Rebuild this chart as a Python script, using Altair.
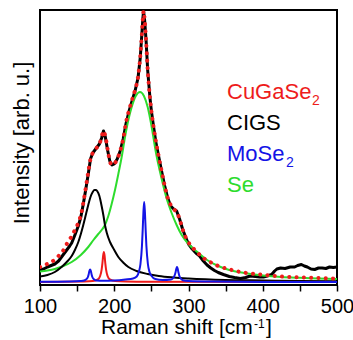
import altair as alt
import pandas as pd

# ---- measured spectrum (black, thick) ----
data_x = [100, 105, 110, 115, 120, 125, 129, 133, 136, 140, 142.7, 147, 151.6, 155, 158.3,
          161.5, 165, 168, 171, 175, 180, 183, 185.5, 188, 191, 194, 197, 200, 204, 208,
          212, 216, 220, 224, 228, 232, 235, 237, 238.5, 239.5, 241, 243, 245, 248, 250,
          253, 256, 260, 264, 268, 272, 276, 280, 284, 288, 292, 296, 300, 305, 310, 315,
          320, 325, 330, 335, 340, 347, 355, 362, 370, 377, 383, 390, 396, 401, 406, 412,
          416, 419, 424, 430, 437, 443, 447, 452, 456, 460, 465, 470, 475, 480, 485, 490,
          495, 500]
data_y = [12, 13, 15, 16.5, 18, 21, 25, 29, 32, 36, 39, 47, 56, 65, 78,
          92, 108, 123, 129, 133, 138, 144, 151, 145, 132, 121, 117, 118, 123, 131,
          143, 159, 171, 181, 191, 204, 224, 246, 263, 271, 261, 240, 212, 185, 171,
          155, 140, 125, 110, 96, 84, 76, 73, 71, 63, 53, 45, 38, 33, 29, 26,
          21, 17, 14, 11.5, 9.5, 7.5, 5.5, 4.5, 3.5, 4.5, 6, 5.5, 5, 5, 6, 7.5,
          11, 13, 14, 13.5, 15, 15, 16.5, 17.5, 16, 15, 13, 12.5, 14, 14, 13.5, 15,
          14.5, 15]

# ---- cumulative fit (red dots) ----
fit_x = [100, 106, 113, 120, 125, 130, 136, 142, 147, 152, 156, 159, 162, 165, 168, 171, 175,
         179, 182, 185.5, 188, 191, 194, 197, 200, 204, 208, 212, 216, 220, 224, 228, 232,
         235, 237, 238.5, 239.5, 241, 243, 245, 248, 250, 253, 256, 260, 264, 268, 272,
         276, 280, 284, 288, 292, 296, 302, 310, 320, 329, 340, 356, 370, 383, 397, 410,
         425, 437, 455, 475, 500]
fit_y = [15, 17, 19, 22.5, 26, 30, 38, 45, 52, 60, 70, 82, 96, 110, 123, 129, 133,
         137, 142, 151, 146, 133, 121, 117, 118, 123, 131, 143, 160, 172, 182, 192, 205,
         225, 246, 263, 271, 262, 240, 213, 185, 171, 155, 141, 125, 110, 96, 84,
         77, 73, 70, 63, 53, 45, 37.5, 31, 24, 20, 16, 12.5, 10, 8.5, 7.5, 6.5,
         5.5, 5, 4.5, 4, 3.5]

# ---- Se component (green) ----
se_x = [100, 110, 120, 130, 142.7, 155, 165, 172, 178.5, 183, 187.5, 192, 196.5, 201, 205.5,
        210, 214.5, 219, 223.5, 229, 234.7, 240, 245, 250.4, 256, 263.9, 270, 277.3, 284,
        290.8, 300, 312, 325, 340, 355, 375, 400, 425, 450, 475, 500]
se_y = [10.5, 11.5, 13, 15.5, 20, 27, 35, 42, 48, 52, 57, 66, 78, 92, 108,
        125, 145, 162, 175, 186, 190, 186, 175, 155, 130, 103, 85, 69, 57,
        47, 38, 30, 22, 16, 12, 9, 6.5, 5, 4.2, 3.6, 3]

# ---- CIGS component (black, thin) ----
cigs_x = [100, 110, 120, 129, 136, 142.7, 147, 151.6, 155, 158.3, 162, 165, 168, 171, 173.5,
          175, 177, 180, 183, 185.3, 187.5, 190, 194.3, 200, 205.5, 212, 219, 230, 245, 260,
          280, 300, 350, 400, 450, 500]
cigs_y = [5.5, 7, 10, 15, 20, 26, 32, 40, 48, 57, 68, 77, 85, 90, 92,
          92, 91, 86, 76, 67, 57, 49, 40, 32, 25, 19.5, 15, 11, 8, 6,
          4.5, 3.5, 2, 1.5, 1, 0.8]

# ---- CuGaSe2 component (red) ----
cgs_x = [100, 160, 171, 178, 181, 183, 184, 185, 186, 187, 188, 189, 191, 194, 201, 230, 500]
cgs_y = [0.1, 0.5, 0.9, 2.6, 6, 12.3, 18.3, 26, 30, 26, 18.3, 12.3, 6, 2.6, 0.9, 0.3, 0]

# ---- MoSe2 component (blue) ----
mose_x = [100, 140, 155, 159.5, 162.5, 164.5, 165.5, 166.5, 167.5, 168.5, 169.5, 170.5, 172.5,
          176, 185, 200, 215, 225.3, 230.3, 233.3, 235.3, 237.3, 238.3, 239.3, 240.3, 241.3,
          242.3, 243.3, 245.3, 247.3, 250.3, 255.3, 265, 276.5, 279.5, 281.5, 282.5, 283.5,
          284.5, 285.5, 286.5, 287.5, 289.5, 292.5, 300, 330, 400, 500]
mose_y = [0.2, 0.5, 1, 1.5, 2.8, 5, 7.5, 11, 12.5, 11, 7.5, 5, 2.8,
          1.5, 1.2, 1.5, 2.5, 3.5, 5.5, 10.5, 18, 36, 52, 70, 80, 70,
          52, 36, 18, 10.5, 6, 3, 2, 2.5, 4, 7, 9.5, 13,
          15, 13, 9.5, 6.5, 3.5, 1.8, 1, 0.4, 0.1, 0]

x_ticks = [100, 150, 200, 250, 300, 350, 400, 450, 500]

RED = "#ee1c1c"
BLUE = "#1414e6"
GREEN = "#2ddc2d"
FONT = "Liberation Sans"

def df(xs, ys):
    return pd.DataFrame({"x": xs, "y": ys})

xenc = alt.X("x:Q", scale=alt.Scale(domain=[100, 500], nice=False, zero=False),
             axis=alt.Axis(values=x_ticks,
                           labelExpr="datum.value % 100 === 0 ? datum.label : ''",
                           title=None, domain=False, grid=False,
                           tickColor="black", tickWidth=1.5, tickSize=6,
                           labelFontSize=20, labelFont=FONT, labelColor="black",
                           labelPadding=5, labelFlush=False, labelOverlap=False))
yenc = alt.Y("y:Q", scale=alt.Scale(domain=[-3, 272], nice=False, zero=False), axis=None)

def line(d, color, width, interp="monotone", **kw):
    return alt.Chart(d).mark_line(color=color, strokeWidth=width, interpolate=interp,
                                  clip=True, **kw).encode(x=xenc, y=yenc)

measured = line(df(data_x, data_y), "black", 3, "linear", strokeJoin="round")
se = line(df(se_x, se_y), GREEN, 2)
cigs = line(df(cigs_x, cigs_y), "black", 2)
cgs = line(df(cgs_x, cgs_y), RED, 2)
mose = line(df(mose_x, mose_y), BLUE, 2)
fit = line(df(fit_x, fit_y), RED, 4, strokeDash=[0.1, 7.2], strokeCap="round")

dummy = alt.Data(values=[{"a": 1}])

def txt(s, px, py, color="black", size=22, angle=0, align="left"):
    return alt.Chart(dummy).mark_text(text=s, font=FONT, fontSize=size, color=color,
                                      align=align, baseline="alphabetic", angle=angle
                                      ).encode(x=alt.value(px), y=alt.value(py))

labels = [
    txt("CuGaSe", 187, 89, RED),
    txt("2", 272, 95, RED, 14),
    txt("CIGS", 187, 120),
    txt("MoSe", 187, 151, BLUE),
    txt("2", 246, 157, BLUE, 14),
    txt("Se", 187, 182, GREEN),
    txt("Raman shift [cm", 61, 324, size=21),
    txt("-1", 214, 318, size=12),
    txt("]", 226, 324, size=21),
    txt("Intensity [arb. u.]", -11, 133, size=22, angle=270, align="center"),
]

chart = alt.layer(measured, se, cigs, cgs, mose, fit, *labels).properties(
    width=297, height=275,
    padding={"left": 40, "top": 10, "right": 16, "bottom": 55},
    autosize="none",
).configure_view(stroke="black", strokeWidth=2)

chart.save("out.html", embed_options={"renderer": "svg", "actions": False})
